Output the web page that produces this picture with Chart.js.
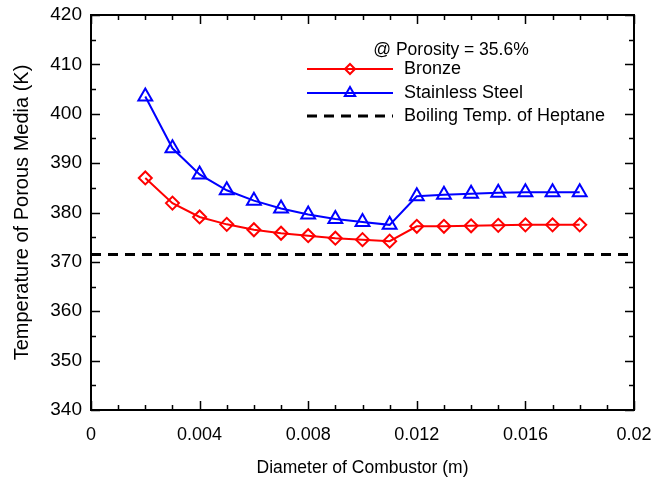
<!DOCTYPE html>
<html>
<head>
<meta charset="utf-8">
<style>
html,body{margin:0;padding:0;background:#fff;}
#wrap{width:662px;height:485px;}
</style>
<script src="https://cdn.jsdelivr.net/npm/chart.js@4.4.0/dist/chart.umd.min.js"></script>
</head>
<body>
<div id="wrap"><canvas id="c" width="662" height="485"></canvas></div>
<script>
const diameters = [0.002,0.003,0.004,0.005,0.006,0.007,0.008,0.009,0.010,0.011,0.012,0.013,0.014,0.015,0.016,0.017,0.018];
const bronze = [387.0,381.9,379.1,377.6,376.5,375.8,375.3,374.8,374.5,374.2,377.2,377.2,377.3,377.4,377.5,377.5,377.5];
const stainless = [403.5,393.0,387.7,384.5,382.4,380.8,379.6,378.7,378.1,377.5,383.3,383.6,383.8,384.0,384.1,384.1,384.1];
const boilingX = [0, 0.02];
const boilingTemp = [371.5, 371.5];
const xTickLabels = ['0','0.004','0.008','0.012','0.016','0.02'];
const yTickLabels = ['340','350','360','370','380','390','400','410','420'];
const seriesNames = ['Bronze','Stainless Steel','Boiling Temp. of Heptane'];
const noteText = '@ Porosity = 35.6%';

const FONT = 'Liberation Sans, Arial, Helvetica, sans-serif';

const frameAndTicks = {
  id: 'frameAndTicks',
  afterDraw(chart) {
    const ctx = chart.ctx;
    const a = chart.chartArea;
    const xs = chart.scales.x, ys = chart.scales.y;
    ctx.save();
    ctx.strokeStyle = '#000';
    ctx.lineWidth = 1.5;
    ctx.beginPath();
    for (let i = 0; i <= 20; i++) {
      const v = i * 0.001;
      const px = Math.round(xs.getPixelForValue(v)) + 0.5;
      const len = (i % 4 === 0) ? 9 : 5;
      ctx.moveTo(px, a.bottom); ctx.lineTo(px, a.bottom - len);
      ctx.moveTo(px, a.top); ctx.lineTo(px, a.top + len);
    }
    for (let i = 0; i <= 16; i++) {
      const v = 340 + i * 5;
      const py = Math.round(ys.getPixelForValue(v)) + 0.5;
      const len = (i % 2 === 0) ? 9 : 5;
      ctx.moveTo(a.left, py); ctx.lineTo(a.left + len, py);
      ctx.moveTo(a.right, py); ctx.lineTo(a.right - len, py);
    }
    ctx.stroke();
    ctx.lineWidth = 2;
    ctx.strokeRect(a.left, a.top, a.right - a.left, a.bottom - a.top);

    // legend
    ctx.fillStyle = '#000';
    ctx.font = '17.5px ' + FONT;
    ctx.textAlign = 'center';
    ctx.textBaseline = 'middle';
    ctx.fillText(noteText, 451, 50);
    ctx.font = '18px ' + FONT;
    ctx.textAlign = 'left';
    const rows = [69, 93, 116];
    const x1 = 307, x2 = 393, xm = 350, tx = 404;
    ctx.fillStyle = 'rgba(0,0,0,0)';
    // Bronze
    ctx.strokeStyle = '#ff0000'; ctx.lineWidth = 2; ctx.setLineDash([]);
    ctx.beginPath(); ctx.moveTo(x1, rows[0]); ctx.lineTo(x2, rows[0]); ctx.stroke();
    Chart.helpers.drawPoint(ctx, {pointStyle:'rectRot', radius:5, borderWidth:2, rotation:0}, xm, rows[0]);
    // Stainless
    ctx.strokeStyle = '#0000ff';
    ctx.beginPath(); ctx.moveTo(x1, rows[1]); ctx.lineTo(x2, rows[1]); ctx.stroke();
    Chart.helpers.drawPoint(ctx, {pointStyle:'triangle', radius:6, borderWidth:2, rotation:0}, xm, rows[1]);
    // Boiling
    ctx.strokeStyle = '#000'; ctx.lineWidth = 3; ctx.setLineDash([10,7]);
    ctx.beginPath(); ctx.moveTo(x1, rows[2]); ctx.lineTo(x2, rows[2]); ctx.stroke();
    ctx.setLineDash([]);
    ctx.fillStyle = '#000';
    for (let i = 0; i < 3; i++) ctx.fillText(seriesNames[i], tx, rows[i]);
    ctx.restore();
  }
};

new Chart(document.getElementById('c'), {
  type: 'scatter',
  data: {
    datasets: [
      {
        label: seriesNames[0],
        data: diameters.map((d, i) => ({x: d, y: bronze[i]})),
        showLine: true,
        borderColor: '#ff0000',
        backgroundColor: 'rgba(0,0,0,0)',
        borderWidth: 2,
        pointStyle: 'rectRot',
        pointRadius: 6.5,
        pointBorderWidth: 2,
        pointBorderColor: '#ff0000',
        pointBackgroundColor: 'rgba(0,0,0,0)'
      },
      {
        label: seriesNames[1],
        data: diameters.map((d, i) => ({x: d, y: stainless[i]})),
        showLine: true,
        borderColor: '#0000ff',
        backgroundColor: 'rgba(0,0,0,0)',
        borderWidth: 2,
        pointStyle: 'triangle',
        pointRadius: 8,
        pointBorderWidth: 2,
        pointBorderColor: '#0000ff',
        pointBackgroundColor: 'rgba(0,0,0,0)'
      },
      {
        label: seriesNames[2],
        data: boilingX.map((d, i) => ({x: d, y: boilingTemp[i]})),
        showLine: true,
        borderColor: '#000',
        borderWidth: 3,
        borderDash: [10, 7],
        pointRadius: 0
      }
    ]
  },
  options: {
    responsive: false,
    animation: false,
    devicePixelRatio: 1,
    layout: {padding: {left: 0, right: 28, top: 15, bottom: 0}},
    plugins: {legend: {display: false}, tooltip: {enabled: false}},
    scales: {
      x: {
        type: 'linear', min: 0, max: 0.02,
        grid: {display: false, drawTicks: false},
        border: {display: false},
        ticks: {
          stepSize: 0.004, padding: 14, color: '#000', maxRotation: 0,
          font: {family: FONT, size: 18},
          callback: (v, i) => xTickLabels[i]
        },
        title: {display: true, text: 'Diameter of Combustor (m)', color: '#000',
          font: {family: FONT, size: 17.5}, padding: {top: 4, bottom: 6}},
        afterFit: s => { s.height = 75; s.paddingLeft = 0; s.paddingRight = 0; }
      },
      y: {
        type: 'linear', min: 340, max: 420,
        grid: {display: false, drawTicks: false},
        border: {display: false},
        ticks: {
          stepSize: 10, padding: 9, color: '#000',
          font: {family: FONT, size: 19},
          callback: (v, i) => yTickLabels[i]
        },
        title: {display: true, text: 'Temperature of Porous Media (K)', color: '#000',
          font: {family: FONT, size: 20}, padding: {top: 10, bottom: 4}},
        afterFit: s => { s.width = 91; s.paddingTop = 0; s.paddingBottom = 0; }
      }
    }
  },
  plugins: [frameAndTicks]
});
</script>
</body>
</html>
